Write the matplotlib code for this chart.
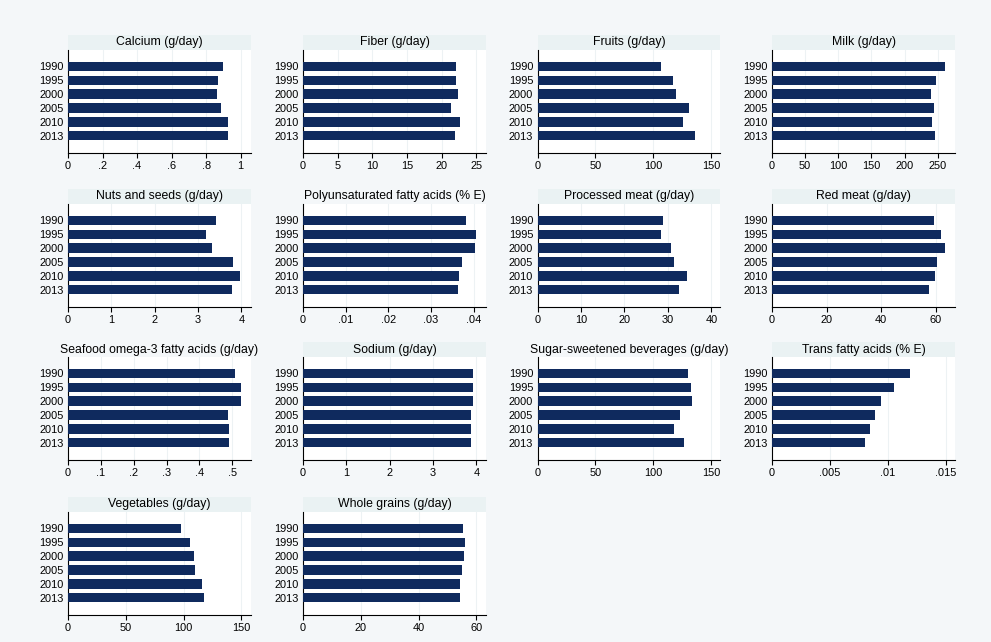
import matplotlib
matplotlib.use("Agg")
import matplotlib.pyplot as plt
from matplotlib.patches import Rectangle

years = ["1990", "1995", "2000", "2005", "2010", "2013"]

titles = [
    "Calcium (g/day)", "Fiber (g/day)", "Fruits (g/day)", "Milk (g/day)",
    "Nuts and seeds (g/day)", "Polyunsaturated fatty acids (% E)", "Processed meat (g/day)", "Red meat (g/day)",
    "Seafood omega-3 fatty acids (g/day)", "Sodium (g/day)", "Sugar-sweetened beverages (g/day)", "Trans fatty acids (% E)",
    "Vegetables (g/day)", "Whole grains (g/day)",
]

calcium = [0.90, 0.867, 0.861, 0.884, 0.925, 0.925]
fiber = [22.1, 22.1, 22.3, 21.4, 22.7, 22.0]
fruits = [106.3, 116.6, 119.2, 130.4, 125.3, 135.6]
milk = [261.6, 248.0, 240.5, 245.0, 242.0, 246.5]
nuts = [3.41, 3.18, 3.32, 3.81, 3.97, 3.78]
pufa = [0.0383, 0.0406, 0.0404, 0.0373, 0.0366, 0.0364]
processed_meat = [28.9, 28.4, 30.7, 31.4, 34.4, 32.6]
red_meat = [59.5, 62.1, 63.5, 60.6, 59.9, 57.7]
seafood_omega3 = [0.509, 0.527, 0.527, 0.488, 0.491, 0.491]
sodium = [3.91, 3.91, 3.91, 3.88, 3.88, 3.88]
ssb = [129.8, 132.4, 133.3, 122.9, 117.7, 126.4]
trans_fat = [0.01195, 0.0105, 0.00945, 0.00885, 0.0085, 0.0080]
vegetables = [97.9, 105.7, 109.2, 110.0, 116.1, 117.8]
whole_grains = [55.5, 56.2, 55.8, 55.1, 54.4, 54.4]

series = [calcium, fiber, fruits, milk, nuts, pufa, processed_meat, red_meat,
          seafood_omega3, sodium, ssb, trans_fat, vegetables, whole_grains]

ticks = [
    [0, 0.2, 0.4, 0.6, 0.8, 1], [0, 5, 10, 15, 20, 25], [0, 50, 100, 150], [0, 50, 100, 150, 200, 250],
    [0, 1, 2, 3, 4], [0, 0.01, 0.02, 0.03, 0.04], [0, 10, 20, 30, 40], [0, 20, 40, 60],
    [0, 0.1, 0.2, 0.3, 0.4, 0.5], [0, 1, 2, 3, 4], [0, 50, 100, 150], [0, 0.005, 0.01, 0.015],
    [0, 50, 100, 150], [0, 20, 40, 60],
]
xmax = [1.06, 26.4, 157.8, 276, 4.22, 0.0429, 42.1, 67.1, 0.557, 4.22, 158, 0.0158, 158.4, 63.3]
show_band = [True, True, True, True, True, False, True, True, False, True, False, True, True, True]

W, H = 991, 642
BG = "#f4f7f9"
BAND = "#eaf2f3"
NAVY = "#0f2a5e"
GRID = "#edf2f4"
FONT = "Liberation Sans"
FS = 7.9
TFS = 8.8

fig = plt.figure(figsize=(W / 100, H / 100), dpi=100, facecolor=BG)

col_left = [68, 303, 537.5, 772]
row_top = [50, 204, 357, 512]
aw, ah = 183, 103
band_h = 15


def fmt(v):
    if v == 0:
        return "0"
    s = f"{v:g}"
    if s.startswith("0."):
        s = s[1:]
    return s


for i, vals in enumerate(series):
    r, c = divmod(i, 4)
    left = col_left[c] / W
    bottom = 1 - (row_top[r] + ah) / H
    ax = fig.add_axes([left, bottom, aw / W, ah / H])
    ax.set_facecolor("white")
    ypos = list(range(len(years)))
    ax.barh(ypos, vals, height=0.65, color=NAVY, zorder=3)
    ax.set_ylim(len(years) - 1 + 1.22, -1.15)
    ax.set_xlim(0, xmax[i])
    ax.set_yticks(ypos)
    ax.set_yticklabels(years, fontsize=FS, family=FONT)
    ax.tick_params(axis="y", length=0, pad=3)
    ax.set_xticks(ticks[i])
    ax.set_xticklabels([fmt(t) for t in ticks[i]], fontsize=FS, family=FONT)
    ax.tick_params(axis="x", length=3.5, width=0.8, pad=2, direction="out")
    for t in ticks[i]:
        if t != 0:
            ax.axvline(t, color=GRID, lw=0.8, zorder=1)
    for s in ["top", "right"]:
        ax.spines[s].set_visible(False)
    for s in ["left", "bottom"]:
        ax.spines[s].set_linewidth(0.8)
        ax.spines[s].set_color("black")
    if show_band[i]:
        ax.add_patch(Rectangle((0, 1), 1, band_h / ah, transform=ax.transAxes,
                               clip_on=False, facecolor=BAND, edgecolor="none", zorder=0))
    ax.text(0.5, 1 + (band_h / 2) / ah, titles[i], transform=ax.transAxes,
            ha="center", va="center", fontsize=TFS, family=FONT)

fig.savefig("out.png", dpi=100, facecolor=BG)
